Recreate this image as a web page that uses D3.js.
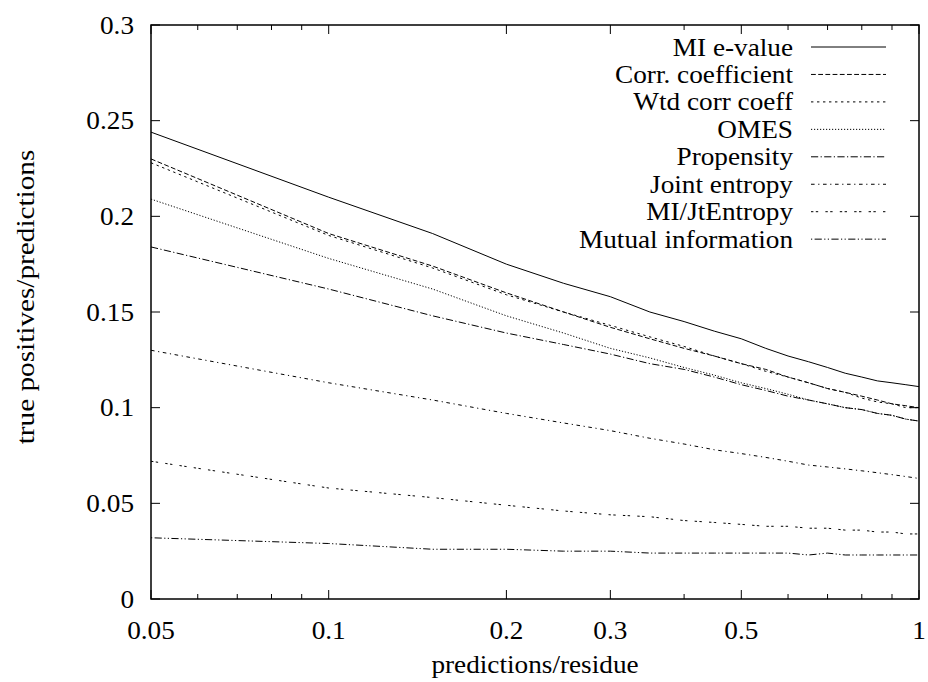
<!DOCTYPE html>
<html>
<head>
<meta charset="utf-8">
<script src="https://cdn.jsdelivr.net/npm/d3@7"></script>
<style>
  html, body { margin: 0; padding: 0; background: #fff; }
  svg { display: block; }
  text { font-family: "Liberation Serif", "Times New Roman", serif; fill: #000; }
</style>
</head>
<body>
<svg id="chart" width="928" height="682"></svg>
<script>
// Fraction of predictions, relative to residue count
const xValues = [0.05, 0.10, 0.15, 0.20, 0.25, 0.30, 0.35, 0.40, 0.45, 0.50,
                 0.55, 0.60, 0.65, 0.70, 0.75, 0.80, 0.85, 0.90, 0.95, 1.00];

// Accuracy (true positives / predictions) per scoring method
const miEvalue   = [0.244, 0.210, 0.191, 0.175, 0.165, 0.158, 0.150, 0.145, 0.140, 0.136,
                    0.131, 0.127, 0.124, 0.121, 0.118, 0.116, 0.114, 0.113, 0.112, 0.111];
const corrCoef   = [0.230, 0.191, 0.174, 0.160, 0.150, 0.142, 0.136, 0.131, 0.127, 0.123,
                    0.120, 0.116, 0.113, 0.110, 0.108, 0.106, 0.104, 0.102, 0.101, 0.100];
const wtdCorr    = [0.228, 0.190, 0.173, 0.159, 0.150, 0.143, 0.137, 0.132, 0.127, 0.123,
                    0.119, 0.116, 0.113, 0.110, 0.108, 0.105, 0.103, 0.102, 0.100, 0.100];
const omes       = [0.209, 0.178, 0.162, 0.148, 0.139, 0.131, 0.126, 0.121, 0.117, 0.113,
                    0.110, 0.107, 0.104, 0.102, 0.100, 0.099, 0.097, 0.096, 0.094, 0.093];
const propensity = [0.184, 0.162, 0.148, 0.139, 0.133, 0.128, 0.123, 0.120, 0.116, 0.112,
                    0.109, 0.106, 0.104, 0.102, 0.100, 0.099, 0.097, 0.096, 0.094, 0.093];
const jointEnt   = [0.130, 0.113, 0.104, 0.097, 0.092, 0.088, 0.084, 0.081, 0.078, 0.076,
                    0.074, 0.072, 0.070, 0.069, 0.068, 0.067, 0.066, 0.065, 0.064, 0.063];
const miJtEnt    = [0.072, 0.058, 0.053, 0.049, 0.046, 0.044, 0.043, 0.041, 0.040, 0.039,
                    0.038, 0.038, 0.037, 0.037, 0.036, 0.036, 0.035, 0.035, 0.034, 0.034];
const mutualInfo = [0.032, 0.029, 0.026, 0.026, 0.025, 0.025, 0.024, 0.024, 0.024, 0.024,
                    0.024, 0.024, 0.023, 0.024, 0.023, 0.023, 0.023, 0.023, 0.023, 0.023];

const seriesNames = ["MI e-value", "Corr. coefficient", "Wtd corr coeff", "OMES",
                     "Propensity", "Joint entropy", "MI/JtEntropy", "Mutual information"];
const seriesValues = [miEvalue, corrCoef, wtdCorr, omes, propensity, jointEnt, miJtEnt, mutualInfo];

const xTickLabels = [0.05, 0.1, 0.2, 0.3, 0.5, 1];
const xMinorTicks = [0.06, 0.07, 0.08, 0.09, 0.4, 0.6, 0.7, 0.8, 0.9];
const yTickValues = [0, 0.05, 0.1, 0.15, 0.2, 0.25, 0.3];

// Gnuplot-style line types, dash units scaled
const dl = 1.2;
const dashPatterns = [
  null,
  [4, 2],
  [2, 3],
  [1, 1.5],
  [6, 2, 1, 2],
  [3, 3, 1, 3],
  [2, 2, 2, 6],
  [1, 2, 6, 2, 1, 2]
].map(p => p ? p.map(v => (v * dl).toFixed(2)).join(",") : null);

const svg = d3.select("#chart");
const plotLeft = 151, plotRight = 919, plotTop = 25, plotBottom = 599;
const x = d3.scaleLog().domain([0.05, 1]).range([plotLeft, plotRight]);
const y = d3.scaleLinear().domain([0, 0.3]).range([plotBottom, plotTop]);

const fontSize = 25;
const stretch = 1.09;

function label(parent, tx, ty, str, anchor) {
  parent.append("g")
    .attr("transform", `translate(${tx},${ty}) scale(${stretch},1)`)
    .append("text")
    .attr("text-anchor", anchor)
    .attr("font-size", fontSize)
    .text(str);
}

const axes = svg.append("g").attr("stroke", "#000").attr("stroke-width", 1);

// y ticks (left and mirrored right)
yTickValues.forEach(v => {
  axes.append("line").attr("x1", plotLeft).attr("x2", plotLeft + 9).attr("y1", y(v)).attr("y2", y(v));
  axes.append("line").attr("x1", plotRight).attr("x2", plotRight - 9).attr("y1", y(v)).attr("y2", y(v));
  label(svg, 134, y(v) + 8.5, String(v), "end");
});

// x ticks (bottom and mirrored top)
xTickLabels.forEach(v => {
  axes.append("line").attr("x1", x(v)).attr("x2", x(v)).attr("y1", plotBottom).attr("y2", plotBottom - 9);
  axes.append("line").attr("x1", x(v)).attr("x2", x(v)).attr("y1", plotTop).attr("y2", plotTop + 9);
  label(svg, x(v), 639, String(v), "middle");
});
xMinorTicks.forEach(v => {
  axes.append("line").attr("x1", x(v)).attr("x2", x(v)).attr("y1", plotBottom).attr("y2", plotBottom - 5);
  axes.append("line").attr("x1", x(v)).attr("x2", x(v)).attr("y1", plotTop).attr("y2", plotTop + 5);
});

// Series lines
const line = d3.line().x((d, i) => x(xValues[i])).y(d => y(d));
const linesG = svg.append("g").attr("fill", "none").attr("stroke", "#000").attr("stroke-width", 1);
seriesValues.forEach((vals, k) => {
  const p = linesG.append("path").attr("d", line(vals));
  if (dashPatterns[k]) p.attr("stroke-dasharray", dashPatterns[k]);
});

// Frame
svg.append("rect")
  .attr("x", plotLeft).attr("y", plotTop)
  .attr("width", plotRight - plotLeft).attr("height", plotBottom - plotTop)
  .attr("fill", "none").attr("stroke", "#000").attr("stroke-width", 1.5);

// Legend
const legendY0 = 47, legendStep = 27.45;
seriesNames.forEach((name, k) => {
  const ly = legendY0 + k * legendStep;
  label(svg, 793, ly + 8.5, name, "end");
  const l = svg.append("line")
    .attr("x1", 811).attr("x2", 886).attr("y1", ly).attr("y2", ly)
    .attr("stroke", "#000").attr("stroke-width", 1);
  if (dashPatterns[k]) l.attr("stroke-dasharray", dashPatterns[k]);
});

// Axis titles
label(svg, (plotLeft + plotRight) / 2, 673, "predictions/residue", "middle");
svg.append("g")
  .attr("transform", "translate(34,297) rotate(-90) scale(1.17,1)")
  .append("text")
  .attr("text-anchor", "middle")
  .attr("font-size", fontSize)
  .text("true positives/predictions");
</script>
</body>
</html>
